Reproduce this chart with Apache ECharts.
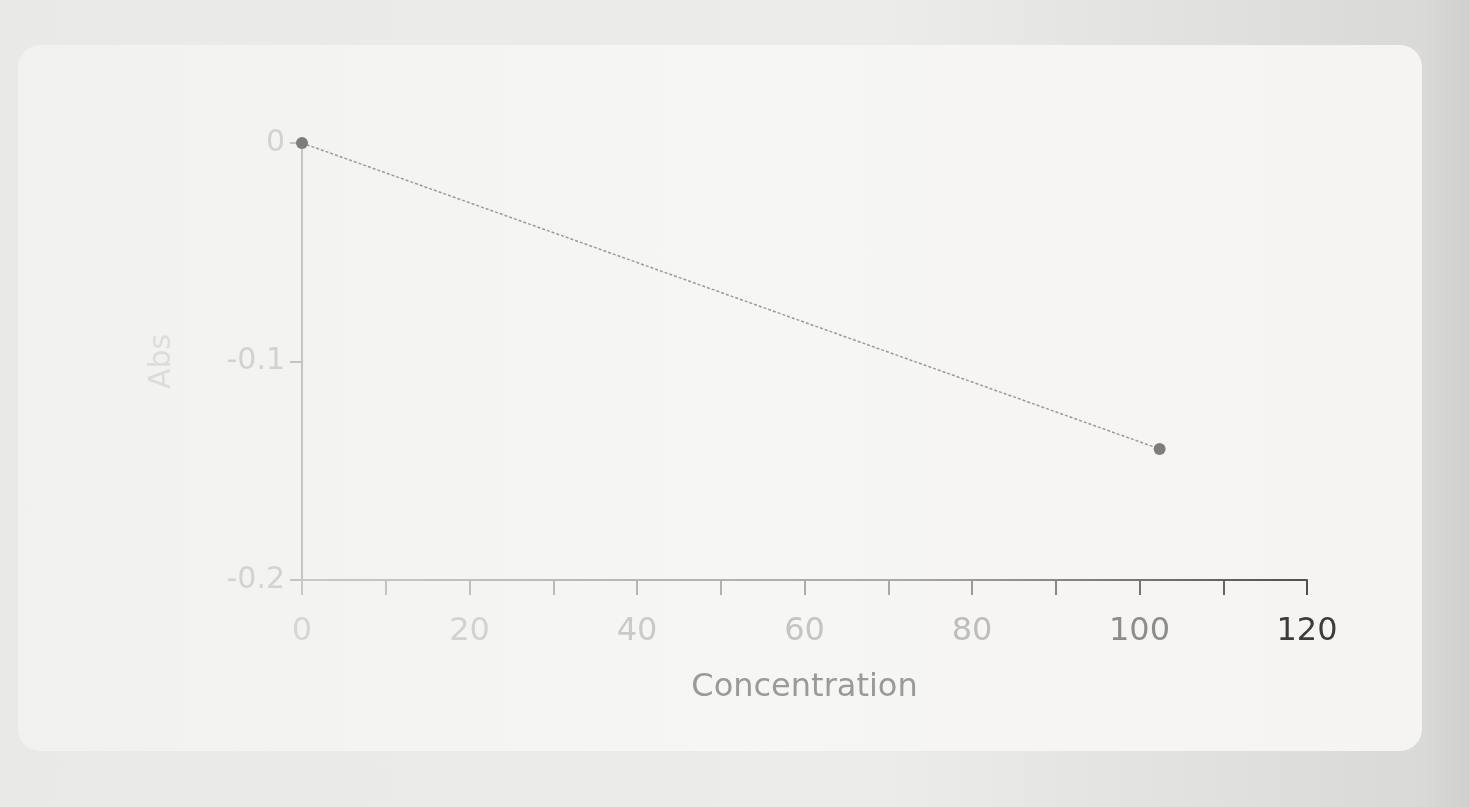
<!DOCTYPE html>
<html>
<head>
<meta charset="utf-8">
<script src="https://cdn.jsdelivr.net/npm/echarts@6/dist/echarts.min.js"></script>
<style>
  html, body { margin: 0; padding: 0; width: 1469px; height: 807px; overflow: hidden;
    background: linear-gradient(90deg, #e9e9e7 0%, #ececea 60%, #d9d9d7 97%, #cfcfcd 100%); }
  #card { position: absolute; left: 18px; top: 45px; width: 1404px; height: 706px;
    background: linear-gradient(90deg, #f1f2f0 0%, #f6f6f4 50%, #f6f4f3 100%); border-radius: 22px; }
  #chart { position: absolute; left: 0; top: 0; width: 1469px; height: 807px; }
</style>
</head>
<body>
<div id="card"></div>
<div id="chart"></div>
<script>
// Data
const concentration = [0, 102.4];
const absorbance = [0, -0.14];
const xTicks = [0, 20, 40, 60, 80, 100, 120];
const yTicks = [-0.2, -0.1, 0];
const xName = 'Concentration';
const yName = 'Abs';

const FONT = '"DejaVu Sans", "Liberation Sans", Arial, sans-serif';
const chart = echarts.init(document.getElementById('chart'), null, { renderer: 'canvas' });

const xAxisGrad = new echarts.graphic.LinearGradient(302, 0, 1307, 0, [
  { offset: 0, color: '#c8c8c8' },
  { offset: 0.6, color: '#a8a8a8' },
  { offset: 1, color: '#505050' }
], true);

const xLabelColors = { 0: '#d6d6d6', 20: '#d2d2d2', 40: '#cacaca', 60: '#c4c4c4', 80: '#bdbdbd', 100: '#8c8c8c', 120: '#3c3c3c' };

chart.setOption({
  animation: false,
  backgroundColor: 'transparent',
  grid: { left: 302, right: 162, top: 143, bottom: 227 },
  xAxis: {
    type: 'value',
    min: xTicks[0],
    max: xTicks[xTicks.length - 1],
    interval: 20,
    name: xName,
    nameLocation: 'middle',
    nameGap: 92,
    nameTextStyle: { color: '#9a9a9a', fontSize: 32, fontFamily: FONT },
    axisLine: { show: true, onZero: false, lineStyle: { color: xAxisGrad, width: 2 } },
    axisTick: { show: true, length: 15, lineStyle: { color: xAxisGrad, width: 2 } },
    minorTick: { show: true, splitNumber: 2, length: 15, lineStyle: { color: xAxisGrad, width: 2 } },
    splitLine: { show: false },
    axisLabel: {
      margin: 36,
      fontSize: 32,
      fontFamily: FONT,
      color: function (v) { return xLabelColors[v] || '#bbbbbb'; }
    }
  },
  yAxis: {
    type: 'value',
    min: yTicks[0],
    max: yTicks[yTicks.length - 1],
    interval: 0.1,
    name: yName,
    nameLocation: 'middle',
    nameGap: 125,
    nameRotate: 90,
    nameTextStyle: { color: '#dcdcdc', fontSize: 30, fontFamily: FONT },
    axisLine: { show: true, onZero: false, lineStyle: { color: '#c4c4c4', width: 2 } },
    axisTick: { show: true, length: 12, lineStyle: { color: '#c4c4c4', width: 2 } },
    splitLine: { show: false },
    axisLabel: {
      margin: 17,
      fontSize: 30,
      fontFamily: FONT,
      color: '#d2d2d2',
      formatter: function (v) { return String(Math.round(v * 10) / 10); }
    }
  },
  series: [{
    type: 'line',
    data: concentration.map((x, i) => [x, absorbance[i]]),
    symbol: 'circle',
    symbolSize: 12,
    itemStyle: { color: '#7d7d7d' },
    lineStyle: { color: '#9a9a9a', width: 1.5, type: [3, 2] }
  }]
});
</script>
</body>
</html>
